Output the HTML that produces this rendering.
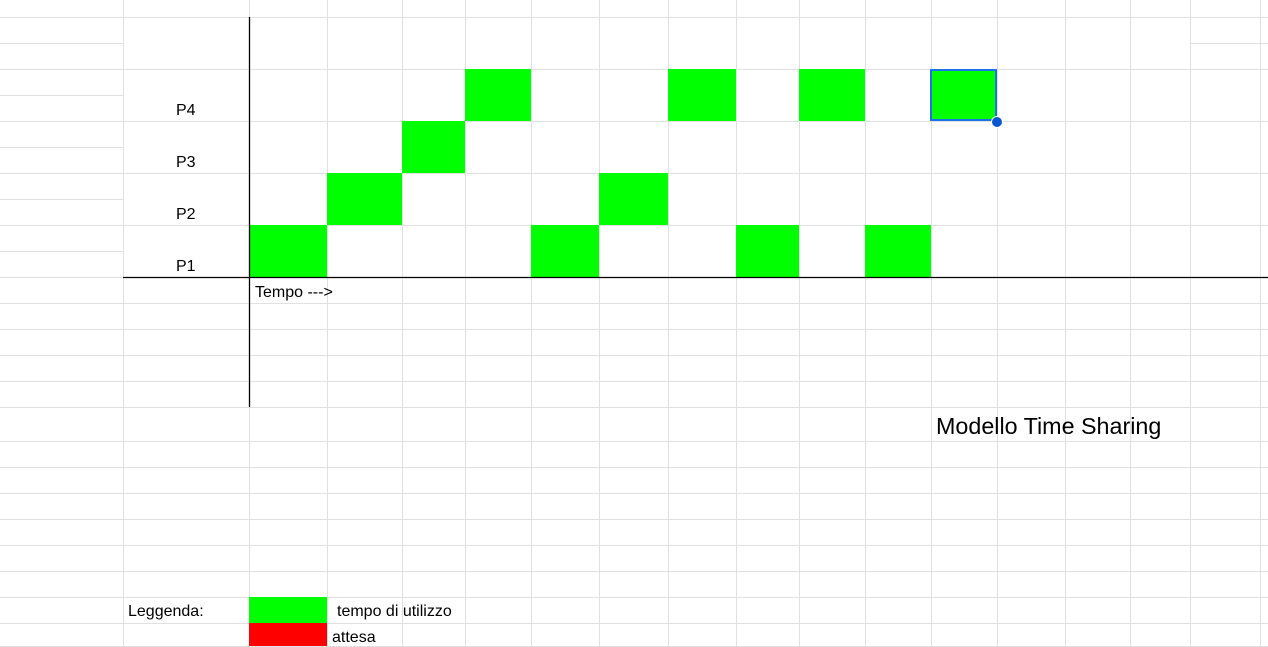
<!DOCTYPE html>
<html><head><meta charset="utf-8"><style>
html,body{margin:0;padding:0;background:#fff;}
svg{display:block;font-family:"Liberation Sans",Arial,sans-serif;}
</style></head><body>
<svg id="c" width="1268" height="647"></svg>
<script>
const colEdges=[249,327,402,465,531,599,668,736,799,865,931,997,1065,1130,1190,1260];
const processes=["P1","P2","P3","P4"];
const p1Slots=[0,4,7,9];
const p2Slots=[1,5];
const p3Slots=[2];
const p4Slots=[3,6,8,10];
const slotsByProcess=[p1Slots,p2Slots,p3Slots,p4Slots];
const NS="http://www.w3.org/2000/svg";
const svg=document.getElementById('c');
function mk(t,a,p){const e=document.createElementNS(NS,t);for(const k in a)e.setAttribute(k,a[k]);(p||svg).appendChild(e);return e;}
const baseY=277,rowH=52;
function yTop(i){return baseY-(i+1)*rowH;}
function xL(s){return colEdges[s];}
function xR(s){return colEdges[s+1];}
const g=mk('g',{stroke:'#e0e0e0','stroke-width':1});


for(let y=17;y<=277;y+=26) mk('line',{x1:0,x2:123,y1:y+.5,y2:y+.5},g);
mk('line',{x1:1190,x2:1268,y1:43.5,y2:43.5},g);
[17,69,121,173,225].forEach(y=>mk('line',{x1:123,x2:1268,y1:y+.5,y2:y+.5},g));
[303,329,355,381,407,441,467,493,519,545,571,597,623,646].forEach(y=>mk('line',{x1:0,x2:1268,y1:y+.5,y2:y+.5},g));
[123].concat(colEdges).forEach(x=>mk('line',{x1:x+.5,x2:x+.5,y1:0,y2:647},g));
slotsByProcess.forEach((slots,pi)=>{slots.forEach(s=>{
 const r=mk('rect',{x:xL(s),y:yTop(pi),width:xR(s)-xL(s),height:rowH,fill:'#00ff00'});
 
 
});});
processes.forEach((p,i)=>{
 const t=mk('text',{x:176,y:yTop(i)+rowH-6,'font-size':16,fill:'#000'});t.textContent=p;
 
 
});
const sel=mk('rect',{x:931,y:70,width:65,height:50,fill:'none',stroke:'#1a73e8','stroke-width':2});


const hd=mk('circle',{cx:997,cy:122,r:5.5,fill:'#0b57d0',stroke:'#fff','stroke-width':1});


const ya=mk('line',{x1:249.5,x2:249.5,y1:17,y2:407,stroke:'#000','stroke-width':1.3});


const xa=mk('line',{x1:123,x2:1268,y1:277.5,y2:277.5,stroke:'#000','stroke-width':1.3});


const xt=mk('text',{x:255,y:297,'font-size':16});xt.textContent='Tempo --->';


const ti=mk('text',{x:936,y:434,'font-size':23.3});ti.textContent='Modello Time Sharing';


const lg=mk('text',{x:128,y:616,'font-size':16});lg.textContent='Leggenda:';


const lr1=mk('rect',{x:249,y:597,width:78,height:26,fill:'#00ff00'});


const lr2=mk('rect',{x:249,y:623,width:78,height:23,fill:'#ff0000'});


const l1=mk('text',{x:337,y:616,'font-size':16});l1.textContent='tempo di utilizzo';


const l2=mk('text',{x:332,y:642,'font-size':16});l2.textContent='attesa';


</script>
</body></html>
